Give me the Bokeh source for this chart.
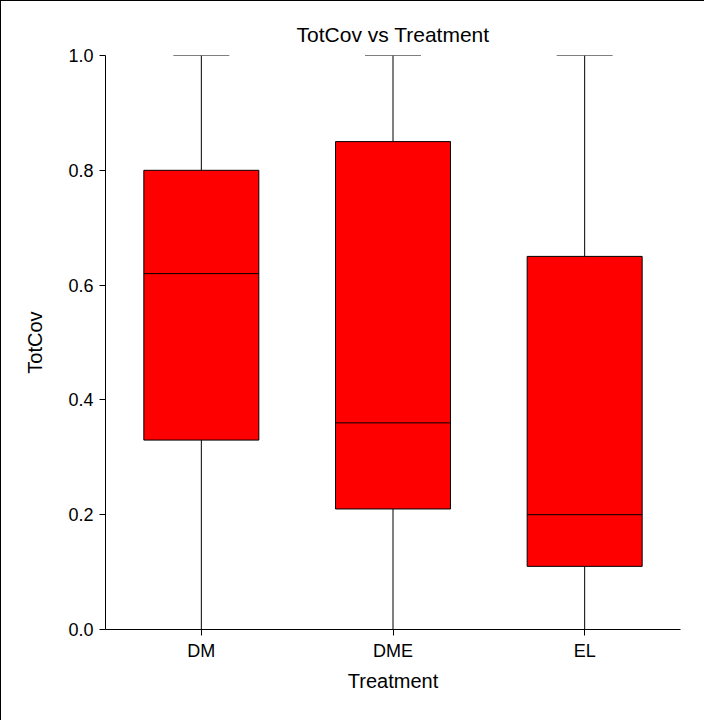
from bokeh.plotting import figure
from bokeh.models import ColumnDataSource, FactorRange, Range1d, FixedTicker, PrintfTickFormatter
from bokeh.transform import dodge
from bokeh.embed import file_html
from bokeh.resources import INLINE

treatments = ["DM", "DME", "EL"]
whisker_low = [0.0, 0.0, 0.0]
q1 = [0.33, 0.21, 0.11]
median = [0.62, 0.36, 0.20]
q3 = [0.80, 0.85, 0.65]
whisker_high = [1.0, 1.0, 1.0]
y_ticks = [0.0, 0.2, 0.4, 0.6, 0.8, 1.0]

src = ColumnDataSource(dict(t=treatments, lo=whisker_low, q1=q1, med=median, q3=q3, hi=whisker_high))

FONT = "Liberation Sans"

p = figure(
    width=704, height=720,
    x_range=FactorRange(factors=treatments, range_padding=0),
    y_range=Range1d(0, 1),
    output_backend="svg", toolbar_location=None,
    title="TotCov vs Treatment",
    min_border_left=104, min_border_right=25, min_border_top=54, min_border_bottom=92,
)
p.styles = {"border-top": "1px solid #000", "border-left": "1px solid #000"}

p.title.align = "center"
p.title.text_font = FONT
p.title.text_font_size = "21px"
p.title.text_font_style = "normal"
p.title.text_color = "#000000"
p.title.standoff = 19

p.outline_line_color = None
p.xgrid.grid_line_color = None
p.ygrid.grid_line_color = None

for ax in (p.xaxis[0], p.yaxis[0]):
    ax.axis_line_color = "#000000"
    ax.major_tick_line_color = "#000000"
    ax.minor_tick_line_color = None
    ax.major_tick_in = 0
    ax.major_tick_out = 6
    ax.major_label_text_font = FONT
    ax.major_label_text_font_size = "18px"
    ax.major_label_text_color = "#000000"
    ax.axis_label_text_font = FONT
    ax.axis_label_text_font_size = "20px"
    ax.axis_label_text_font_style = "normal"
    ax.axis_label_text_color = "#000000"

p.xaxis.axis_label = "Treatment"
p.yaxis.axis_label = "TotCov"
p.xaxis.major_label_standoff = 5
p.xaxis.axis_label_standoff = 6
p.yaxis.major_label_standoff = 6
p.yaxis.axis_label_standoff = 19
p.yaxis.ticker = FixedTicker(ticks=y_ticks)
p.yaxis.formatter = PrintfTickFormatter(format="%.1f")

# whiskers
p.segment(x0="t", y0="lo", x1="t", y1="q1", source=src, line_color="#000000", line_width=1)
p.segment(x0="t", y0="q3", x1="t", y1="hi", source=src, line_color="#000000", line_width=1)
# caps
cap = 0.146
p.segment(x0=dodge("t", -cap, range=p.x_range), x1=dodge("t", cap, range=p.x_range),
          y0="hi", y1="hi", source=src, line_color="#000000", line_width=1)
p.segment(x0=dodge("t", -cap, range=p.x_range), x1=dodge("t", cap, range=p.x_range),
          y0="lo", y1="lo", source=src, line_color="#000000", line_width=1)
# boxes
p.vbar(x="t", width=0.6, bottom="q1", top="q3", source=src,
       fill_color="#ff0000", line_color="#000000", line_width=1)
# medians
p.segment(x0=dodge("t", -0.3, range=p.x_range), x1=dodge("t", 0.3, range=p.x_range),
          y0="med", y1="med", source=src, line_color="#000000", line_width=1)

open("out.html", "w").write(file_html(p, INLINE))
